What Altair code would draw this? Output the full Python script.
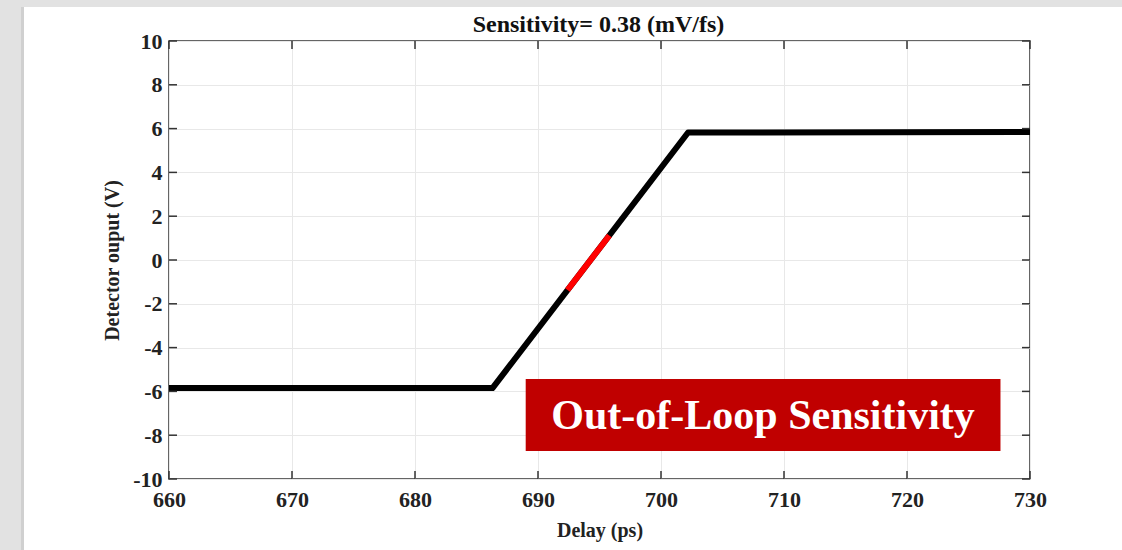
import altair as alt
import pandas as pd

# ---- data ----
delay = [660.0, 686.3, 702.2, 730.0]
volts = [-5.85, -5.85, 5.82, 5.85]
red_delay = [692.4, 695.8]
red_volts = [-1.37, 1.12]
x_ticks = [660, 670, 680, 690, 700, 710, 720, 730]
y_ticks = [-10, -8, -6, -4, -2, 0, 2, 4, 6, 8, 10]
box_x = [689.0, 727.6]
box_y = [-5.43, -8.72]
box_label = "Out-of-Loop Sensitivity"
title_text = "Sensitivity= 0.38 (mV/fs)"

W, H = 861, 438
FONT = "Liberation Serif"
LBL = 22

xs = alt.Scale(domain=[660, 730], nice=False, zero=False)
ys = alt.Scale(domain=[-10, 10], nice=False, zero=False)

line_df = pd.DataFrame({"d": delay, "v": volts})
red_df = pd.DataFrame({"d": red_delay, "v": red_volts})
xt_df = pd.DataFrame({"t": x_ticks})
yt_df = pd.DataFrame({"t": y_ticks})
box_df = pd.DataFrame({"x1": [box_x[0]], "x2": [box_x[1]], "y1": [box_y[0]], "y2": [box_y[1]],
                       "xc": [(box_x[0] + box_x[1]) / 2], "yc": [(box_y[0] + box_y[1]) / 2],
                       "lab": [box_label]})
one_df = pd.DataFrame({"k": [0], "title": [title_text]})

xaxis = alt.Axis(values=x_ticks, title="Delay (ps)", ticks=False, labelPadding=10,
                 labelExpr="'' + datum.value", labelFlush=False,
                 labelFont=FONT, labelFontSize=LBL, labelFontWeight="bold", labelColor="#222",
                 titleFont=FONT, titleFontSize=20, titleFontWeight="bold", titleColor="#222",
                 titlePadding=10, grid=True, gridColor="#e8e8e8", domain=False)
yaxis = alt.Axis(values=y_ticks, title="Detector ouput (V)", ticks=False, labelPadding=7,
                 labelExpr="'' + datum.value", labelFlush=False,
                 labelFont=FONT, labelFontSize=LBL, labelFontWeight="bold", labelColor="#222",
                 titleFont=FONT, titleFontSize=20, titleFontWeight="bold", titleColor="#222",
                 titlePadding=10, grid=True, gridColor="#e8e8e8", domain=False)

# gray page strips (outside the plot area)
left_strip = alt.Chart(one_df).mark_rect(color="#e2e2e2").encode(
    x=alt.value(-169), x2=alt.value(-145), y=alt.value(-41), y2=alt.value(H + 71))
left_shadow = alt.Chart(one_df).mark_rect(color="#d0d0d0").encode(
    x=alt.value(-148), x2=alt.value(-145), y=alt.value(-34), y2=alt.value(H + 71))
top_strip = alt.Chart(one_df).mark_rect(color="#e2e2e2").encode(
    x=alt.value(-169), x2=alt.value(W + 92), y=alt.value(-41), y2=alt.value(-34))

title_mark = alt.Chart(one_df).mark_text(font=FONT, fontSize=24, fontWeight="bold", color="#111",
                                          align="center", baseline="middle").encode(
    x=alt.value(W / 2 - 1), y=alt.value(-16), text="title:N")

base_line = alt.Chart(line_df).mark_line(color="black", strokeWidth=6, strokeJoin="round").encode(
    x=alt.X("d:Q", scale=xs, axis=xaxis),
    y=alt.Y("v:Q", scale=ys, axis=yaxis))
red_line = alt.Chart(red_df).mark_line(color="#ff0000", strokeWidth=6).encode(
    x=alt.X("d:Q", scale=xs, axis=xaxis), y=alt.Y("v:Q", scale=ys, axis=yaxis))

tick_len = 8
xt_bot = alt.Chart(xt_df).mark_rule(color="#333", strokeWidth=1.5).encode(
    x=alt.X("t:Q", scale=xs, axis=xaxis), y=alt.value(H), y2=alt.value(H - tick_len))
xt_top = alt.Chart(xt_df).mark_rule(color="#333", strokeWidth=1.5).encode(
    x=alt.X("t:Q", scale=xs, axis=xaxis), y=alt.value(0), y2=alt.value(tick_len))
yt_left = alt.Chart(yt_df).mark_rule(color="#333", strokeWidth=1.5).encode(
    y=alt.Y("t:Q", scale=ys, axis=yaxis), x=alt.value(0), x2=alt.value(tick_len))
yt_right = alt.Chart(yt_df).mark_rule(color="#333", strokeWidth=1.5).encode(
    y=alt.Y("t:Q", scale=ys, axis=yaxis), x=alt.value(W), x2=alt.value(W - tick_len))

box = alt.Chart(box_df).mark_rect(color="#c00000").encode(
    x=alt.X("x1:Q", scale=xs, axis=xaxis), x2="x2:Q",
    y=alt.Y("y1:Q", scale=ys, axis=yaxis), y2="y2:Q")
box_text = alt.Chart(box_df).mark_text(color="white", font=FONT, fontSize=42, fontWeight="bold",
                                        align="center", baseline="middle", dy=1).encode(
    x=alt.X("xc:Q", scale=xs, axis=xaxis), y=alt.Y("yc:Q", scale=ys, axis=yaxis), text="lab:N")

chart = alt.layer(
    left_strip, left_shadow, top_strip, title_mark,
    base_line, red_line, xt_bot, xt_top, yt_left, yt_right, box, box_text
).properties(
    width=W, height=H,
    autosize=alt.AutoSizeParams(type="none"),
    padding={"left": 169, "top": 41, "right": 92, "bottom": 71},
    background="white",
).configure_view(stroke="#333", strokeWidth=1.5).configure_axis(
    labelFont=FONT, labelFontSize=LBL, labelFontWeight="bold", labelFlush=False
)

chart.save("out.html", embed_options={"renderer": "svg", "actions": False})
